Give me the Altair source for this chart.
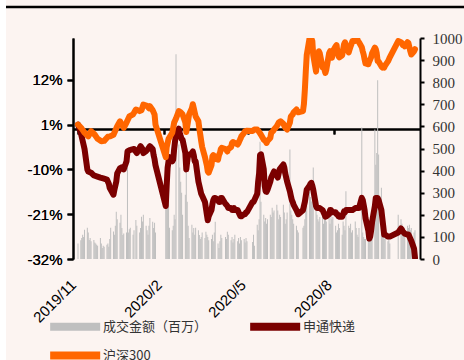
import altair as alt
import pandas as pd

# ---------------- data ----------------
series_names = ["成交金额（百万）", "申通快递", "沪深300"]
series_colors = ["#BFBFBF", "#7B0000", "#FF6600"]

holidays = ["2020-01-01", "2020-01-24", "2020-01-27", "2020-01-28", "2020-01-29",
            "2020-01-30", "2020-01-31", "2020-04-06", "2020-05-01", "2020-05-04",
            "2020-05-05", "2020-06-25", "2020-06-26", "2020-10-01", "2020-10-02",
            "2020-10-05", "2020-10-06", "2020-10-07", "2020-10-08"]

vol_nov = [70, 85, 95, 110, 100, 132, 141, 120, 86, 95, 80, 86, 75, 70, 64, 60, 95, 70, 50, 60, 55]
vol_dec = [64, 70, 55, 90, 141, 125, 110, 150, 214, 180, 164, 200, 140, 109, 115, 120, 414, 120, 135, 141, 110, 130]
vol_jan = [177, 150, 120, 140, 191, 170, 200, 150, 130, 110, 150, 186, 168, 140, 164, 120]
vol_feb = [300, 290, 232, 282, 141, 130, 150, 200, 180, 927, 518, 414, 350, 300, 200, 291, 436, 259, 150, 95]
vol_mar = [155, 120, 140, 110, 141, 130, 109, 90, 100, 120, 95, 123, 110, 100, 85, 90, 110, 80, 120, 168, 70, 50]
vol_apr = [80, 110, 95, 100, 90, 123, 110, 85, 100, 75, 90, 110, 80, 95, 70, 100, 85, 90, 75, 95, 80]
vol_may = [77, 110, 60, 155, 130, 180, 530, 259, 200, 170, 185, 160, 180, 200, 190, 232, 210, 220]
vol_jun = [245, 220, 180, 200, 190, 245, 210, 160, 180, 210, 495, 220, 200, 180, 160, 150, 130, 120, 141, 150]
vol_jul = [180, 259, 240, 305, 280, 260, 300, 414, 220, 200, 180, 170, 190, 200, 160, 180, 210, 170, 190, 160, 200, 180, 190]
vol_aug = [150, 120, 130, 160, 140, 110, 170, 150, 130, 306, 150, 140, 160, 120, 130, 170, 140, 110, 100, 140, 595]
vol_sep = [120, 100, 90, 90, 110, 120, 130, 150, 140, 586, 427, 480, 809, 473, 322, 120, 100, 90, 100, 80, 90, 70]
vol_oct = [200, 180, 160, 140, 130, 120, 150, 140, 155, 130, 140, 120, 130]

st_dates = ["2019-11-01", "2019-11-04", "2019-11-05", "2019-11-06", "2019-11-07", "2019-11-08",
            "2019-11-11", "2019-11-12", "2019-11-15", "2019-11-18", "2019-11-21", "2019-11-25",
            "2019-11-28", "2019-12-02", "2019-12-04", "2019-12-05", "2019-12-09", "2019-12-10",
            "2019-12-12", "2019-12-13", "2019-12-16", "2019-12-18", "2019-12-20", "2019-12-23",
            "2019-12-24", "2019-12-27", "2019-12-31", "2020-01-03", "2020-01-07", "2020-01-09",
            "2020-01-10", "2020-01-13", "2020-01-15", "2020-01-17", "2020-01-20", "2020-01-21",
            "2020-01-22", "2020-01-23", "2020-02-03", "2020-02-04", "2020-02-05", "2020-02-06",
            "2020-02-07", "2020-02-10", "2020-02-11", "2020-02-12", "2020-02-13", "2020-02-14",
            "2020-02-17", "2020-02-18", "2020-02-19", "2020-02-20", "2020-02-21", "2020-02-24",
            "2020-02-25", "2020-02-26", "2020-02-27", "2020-02-28", "2020-03-02", "2020-03-03",
            "2020-03-04", "2020-03-05", "2020-03-06", "2020-03-09", "2020-03-10", "2020-03-11",
            "2020-03-12", "2020-03-13", "2020-03-16", "2020-03-17", "2020-03-18", "2020-03-19",
            "2020-03-20", "2020-03-23", "2020-03-24", "2020-03-25", "2020-03-26", "2020-03-27",
            "2020-03-30", "2020-03-31", "2020-04-01", "2020-04-02", "2020-04-03", "2020-04-07",
            "2020-04-08", "2020-04-09", "2020-04-10", "2020-04-13", "2020-04-14", "2020-04-15",
            "2020-04-16", "2020-04-17", "2020-04-20", "2020-04-21", "2020-04-22", "2020-04-23",
            "2020-04-24", "2020-04-27", "2020-04-28", "2020-04-29", "2020-04-30", "2020-05-06",
            "2020-05-07", "2020-05-08", "2020-05-11", "2020-05-12", "2020-05-13", "2020-05-14",
            "2020-05-15", "2020-05-18", "2020-05-19", "2020-05-20", "2020-05-21", "2020-05-22",
            "2020-05-25", "2020-05-26", "2020-05-27", "2020-05-28", "2020-05-29", "2020-06-01",
            "2020-06-02", "2020-06-03", "2020-06-04", "2020-06-05", "2020-06-08", "2020-06-09",
            "2020-06-10", "2020-06-11", "2020-06-12", "2020-06-15", "2020-06-16", "2020-06-17",
            "2020-06-18", "2020-06-19", "2020-06-22", "2020-06-23", "2020-06-24", "2020-06-29",
            "2020-06-30", "2020-07-01", "2020-07-02", "2020-07-03", "2020-07-06", "2020-07-07",
            "2020-07-08", "2020-07-09", "2020-07-10", "2020-07-13", "2020-07-14", "2020-07-15",
            "2020-07-16", "2020-07-17", "2020-07-20", "2020-07-21", "2020-07-22", "2020-07-23",
            "2020-07-24", "2020-07-27", "2020-07-28", "2020-07-29", "2020-07-30", "2020-07-31",
            "2020-08-03", "2020-08-04", "2020-08-05", "2020-08-06", "2020-08-07", "2020-08-10",
            "2020-08-11", "2020-08-12", "2020-08-13", "2020-08-14", "2020-08-17", "2020-08-18",
            "2020-08-19", "2020-08-20", "2020-08-21", "2020-08-24", "2020-08-25", "2020-08-26",
            "2020-08-27", "2020-08-28", "2020-08-31", "2020-09-01", "2020-09-02", "2020-09-03",
            "2020-09-04", "2020-09-07", "2020-09-08", "2020-09-09", "2020-09-10", "2020-09-11",
            "2020-09-14", "2020-09-15", "2020-09-16", "2020-09-17", "2020-09-18", "2020-09-21",
            "2020-09-22", "2020-09-23", "2020-09-24", "2020-09-25", "2020-09-28", "2020-09-29",
            "2020-09-30", "2020-10-09", "2020-10-12", "2020-10-13", "2020-10-14", "2020-10-15",
            "2020-10-16", "2020-10-19", "2020-10-20", "2020-10-21", "2020-10-22", "2020-10-23",
            "2020-10-26", "2020-10-27"]
st_vals = [1.0, -1.0, -2.0, -3.0, -4.0, -5.0,
           -10.0, -10.5, -10.8, -11.5, -11.7, -12.0,
           -12.2, -12.5, -13.5, -14.6, -16.2, -15.0,
           -13.0, -11.0, -9.7, -9.5, -10.0, -8.0,
           -5.6, -5.2, -5.0, -6.0, -4.3, -5.0,
           -6.0, -5.5, -5.0, -4.3, -5.0, -6.5,
           -7.5, -9.0, -19.0, -14.0, -9.6, -8.0,
           -7.0, -8.0, -7.6, -5.0, -3.0, -1.5,
           0.0, -1.0, -1.9, -2.5, -2.7, -6.0,
           -10.0, -8.0, -6.4, -6.5, -6.0, -5.6,
           -6.5, -8.0, -8.0, -13.0, -14.0, -15.0,
           -16.0, -16.5, -18.0, -19.5, -21.0, -22.5,
           -21.5, -20.0, -18.5, -17.5, -17.0, -17.0,
           -17.5, -18.0, -18.0, -17.0, -17.0, -18.5,
           -18.7, -19.0, -19.5, -19.5, -20.0, -20.0,
           -19.5, -20.0, -20.0, -20.5, -21.0, -21.5,
           -21.5, -21.0, -21.0, -20.5, -20.5, -18.0,
           -18.0, -17.5, -16.0, -13.0, -11.0, -6.5,
           -6.3, -10.0, -14.0, -15.4, -15.5, -15.0,
           -13.0, -12.0, -11.5, -11.0, -10.5, -11.5,
           -12.0, -11.0, -10.0, -9.7, -8.8, -9.5,
           -11.0, -12.0, -13.0, -15.4, -16.5, -17.5,
           -18.0, -18.7, -20.0, -20.5, -21.0, -20.0,
           -19.0, -18.0, -16.5, -15.0, -14.0, -13.5,
           -13.3, -14.0, -15.0, -19.0, -19.5, -19.5,
           -19.5, -19.5, -20.0, -20.5, -21.0, -21.6,
           -21.5, -21.0, -20.0, -20.0, -20.5, -20.5,
           -20.5, -21.0, -21.0, -21.5, -21.6, -21.6,
           -21.0, -20.3, -20.5, -20.0, -20.0, -20.0,
           -20.0, -20.0, -20.0, -19.5, -19.5, -19.5,
           -19.5, -19.5, -17.0, -17.5, -18.7, -20.0,
           -22.0, -25.0, -27.0, -26.5, -25.0, -23.0,
           -19.0, -17.0, -17.0, -17.0, -17.5, -20.0,
           -22.0, -24.0, -26.0, -26.0, -26.5, -26.5,
           -26.5, -25.5, -24.5, -24.8, -25.3, -25.5,
           -25.8, -26.0, -26.0, -26.5, -27.0, -27.5,
           -29.5, -31.7]

hs_dates = ["2019-11-01", "2019-11-05", "2019-11-08", "2019-11-12", "2019-11-15", "2019-11-19",
            "2019-11-22", "2019-11-26", "2019-11-29", "2019-12-03", "2019-12-05", "2019-12-09",
            "2019-12-13", "2019-12-16", "2019-12-18", "2019-12-20", "2019-12-23", "2019-12-26",
            "2019-12-30", "2020-01-02", "2020-01-06", "2020-01-08", "2020-01-10", "2020-01-14",
            "2020-01-16", "2020-01-17", "2020-01-20", "2020-01-22", "2020-01-23", "2020-02-03",
            "2020-02-04", "2020-02-06", "2020-02-10", "2020-02-12", "2020-02-14", "2020-02-17",
            "2020-02-19", "2020-02-21", "2020-02-24", "2020-02-25", "2020-02-26", "2020-02-27",
            "2020-02-28", "2020-03-02", "2020-03-03", "2020-03-04", "2020-03-05", "2020-03-06",
            "2020-03-09", "2020-03-10", "2020-03-11", "2020-03-12", "2020-03-13", "2020-03-16",
            "2020-03-17", "2020-03-18", "2020-03-19", "2020-03-20", "2020-03-23", "2020-03-24",
            "2020-03-25", "2020-03-26", "2020-03-27", "2020-03-30", "2020-03-31", "2020-04-01",
            "2020-04-02", "2020-04-03", "2020-04-07", "2020-04-08", "2020-04-09", "2020-04-10",
            "2020-04-13", "2020-04-14", "2020-04-15", "2020-04-17", "2020-04-20", "2020-04-21",
            "2020-04-22", "2020-04-23", "2020-04-24", "2020-04-27", "2020-04-28", "2020-04-30",
            "2020-05-06", "2020-05-08", "2020-05-11", "2020-05-13", "2020-05-15", "2020-05-18",
            "2020-05-20", "2020-05-21", "2020-05-22", "2020-05-25", "2020-05-26", "2020-05-28",
            "2020-05-29", "2020-06-01", "2020-06-03", "2020-06-05", "2020-06-08", "2020-06-10",
            "2020-06-12", "2020-06-15", "2020-06-16", "2020-06-18", "2020-06-19", "2020-06-22",
            "2020-06-23", "2020-06-24", "2020-06-29", "2020-06-30", "2020-07-01", "2020-07-02",
            "2020-07-03", "2020-07-06", "2020-07-07", "2020-07-08", "2020-07-09", "2020-07-10",
            "2020-07-13", "2020-07-14", "2020-07-15", "2020-07-16", "2020-07-17", "2020-07-20",
            "2020-07-21", "2020-07-22", "2020-07-23", "2020-07-24", "2020-07-27", "2020-07-28",
            "2020-07-29", "2020-07-30", "2020-07-31", "2020-08-03", "2020-08-04", "2020-08-05",
            "2020-08-06", "2020-08-07", "2020-08-10", "2020-08-11", "2020-08-12", "2020-08-13",
            "2020-08-14", "2020-08-17", "2020-08-18", "2020-08-19", "2020-08-20", "2020-08-21",
            "2020-08-24", "2020-08-25", "2020-08-26", "2020-08-27", "2020-08-28", "2020-08-31",
            "2020-09-01", "2020-09-02", "2020-09-03", "2020-09-04", "2020-09-07", "2020-09-08",
            "2020-09-09", "2020-09-10", "2020-09-11", "2020-09-14", "2020-09-15", "2020-09-16",
            "2020-09-17", "2020-09-18", "2020-09-21", "2020-09-22", "2020-09-23", "2020-09-24",
            "2020-09-25", "2020-09-28", "2020-09-29", "2020-09-30", "2020-10-09", "2020-10-12",
            "2020-10-13", "2020-10-14", "2020-10-15", "2020-10-16", "2020-10-19", "2020-10-20",
            "2020-10-21", "2020-10-22", "2020-10-23", "2020-10-26", "2020-10-27"]
hs_vals = [1.0, 0.0, -1.0, -1.9, -0.6, -1.5,
           -2.5, -3.1, -3.0, -2.0, -1.9, -1.5,
           0.6, 1.8, 1.0, 0.2, 1.5, 3.0,
           3.5, 4.7, 4.3, 4.5, 5.9, 5.6,
           5.0, 5.5, 4.5, 3.5, 1.0, -7.0,
           -4.5, -2.5, -1.0, 1.5, 2.5, 4.3,
           4.0, 3.5, 1.5, -0.8, 0.5, 2.0,
           3.5, 5.0, 6.0, 5.0, 4.0, 3.0,
           1.8, 0.0, -1.5, -3.1, -4.5, -7.0,
           -8.0, -9.0, -10.5, -10.8, -9.0, -6.8,
           -6.5, -7.0, -7.4, -7.6, -6.5, -6.0,
           -5.0, -4.7, -5.0, -5.3, -5.6, -5.0,
           -4.5, -3.5, -3.3, -3.5, -3.9, -3.5,
           -3.0, -2.5, -1.9, -1.0, -0.6, -0.5,
           -0.6, -0.2, -0.2, -0.8, -1.5, -2.7,
           -3.1, -3.5, -3.0, -2.3, -1.0, -0.6,
           -0.2, 0.6, 1.5, 1.8, 1.2, 0.2,
           -0.2, 1.5, 3.0, 3.5, 4.0, 4.7,
           4.3, 4.0, 4.3, 6.0, 9.5, 14.0,
           18.0, 22.1, 22.1, 22.1, 21.5, 18.0,
           14.0, 16.6, 17.5, 19.0, 18.5, 15.0,
           15.5, 14.5, 13.7, 14.5, 18.5, 19.0,
           18.0, 17.4, 19.0, 20.2, 20.5, 18.5,
           17.8, 17.5, 18.0, 19.5, 20.7, 21.2,
           20.5, 18.7, 19.5, 20.2, 20.8, 21.5,
           21.5, 22.0, 22.1, 21.5, 21.2, 20.0,
           19.0, 18.2, 17.0, 16.0, 15.8, 16.5,
           17.0, 17.5, 18.5, 19.9, 19.5, 18.5,
           16.6, 16.5, 15.3, 15.0, 15.2, 15.0,
           15.5, 16.5, 17.0, 17.5, 21.5, 21.2,
           21.0, 20.5, 20.5, 20.2, 21.2, 21.0,
           20.0, 19.0, 18.2, 19.0, 19.5]

left_ticks = [-32, -21, -10, 1, 12]
right_ticks = [0, 100, 200, 300, 400, 500, 600, 700, 800, 900, 1000]

# ---------------- tables ----------------
trade_days = [d for d in pd.bdate_range("2019-11-01", "2020-10-27")
              if d.strftime("%Y-%m-%d") not in holidays]
volumes = (vol_nov + vol_dec + vol_jan + vol_feb + vol_mar + vol_apr + vol_may
           + vol_jun + vol_jul + vol_aug + vol_sep + vol_oct)
n = min(len(trade_days), len(volumes))
vol_df = pd.DataFrame({"date": trade_days[:n], "vol": volumes[:n]})
st_df = pd.DataFrame({"date": pd.to_datetime(st_dates), "v": st_vals, "series": series_names[1]})
hs_df = pd.DataFrame({"date": pd.to_datetime(hs_dates), "v": hs_vals, "series": series_names[2]})

W, H = 347, 221
PAD_L, PAD_T = 73, 38
BG = "#FCF4F1"

tick_dates = [alt.DateTime(year=2019, month=11, date=1), alt.DateTime(year=2020, month=2, date=1),
              alt.DateTime(year=2020, month=5, date=1), alt.DateTime(year=2020, month=8, date=1)]
xscale = alt.Scale(domain=[alt.DateTime(year=2019, month=11, date=1),
                           alt.DateTime(year=2020, month=10, date=27)])
yscale_left = alt.Scale(domain=[-32, 22.25], nice=False, zero=False)
cscale = alt.Scale(domain=series_names, range=series_colors)

legend = alt.Legend(
    title=None, orient="none", legendX=-27, legendY=276, columns=2, direction="horizontal",
    symbolType="M-1,0H5", symbolSize=278, symbolStrokeWidth=8,
    labelFont="Noto Sans CJK SC", labelFontSize=13, labelColor="#333333",
    labelOffset=32, columnPadding=26, rowPadding=-13, symbolOpacity=1,
)

bars = alt.Chart(vol_df).mark_bar(size=1, color="#BFBFBF").encode(
    x=alt.X("date:T", scale=xscale, title=None,
            axis=alt.Axis(values=tick_dates, format="%Y/%-m", labelAngle=-45,
                          labelAlign="right", labelBaseline="middle",
                          domain=False, ticks=False, grid=False,
                          labelFont="Liberation Sans", labelFontSize=15, labelColor="#000000",
                          labelPadding=23, labelOffset=-5,
                          labelFlush=False, labelOverlap=False, labelBound=False)),
    y=alt.Y("vol:Q", scale=alt.Scale(domain=[0, 1000], nice=False), title=None,
            axis=alt.Axis(orient="right", values=right_ticks, format="d", grid=False,
                          domainColor="#000000", domainWidth=2,
                          tickColor="#000000", tickWidth=2, tickSize=4,
                          labelFont="Liberation Serif", labelFontSize=15, labelColor="#333333",
                          labelPadding=8)),
)

line_axis_x = alt.Axis(values=tick_dates, orient="bottom", offset=-130, labels=False,
                       domain=True, domainColor="#000000", domainWidth=2,
                       ticks=True, tickColor="#000000", tickWidth=2, tickSize=5, grid=False)
left_axis = alt.Axis(orient="left", values=left_ticks, labelExpr="datum.value + '%'", grid=False,
                     domainColor="#000000", domainWidth=2,
                     tickColor="#000000", tickWidth=2, tickSize=6,
                     labelFont="Liberation Sans", labelFontSize=15, labelColor="#000000",
                     labelPadding=5)

line_st = alt.Chart(st_df).mark_line(strokeWidth=6, strokeCap="round", strokeJoin="round", clip=True).encode(
    x=alt.X("date:T", scale=xscale, title=None, axis=line_axis_x),
    y=alt.Y("v:Q", scale=yscale_left, title=None, axis=left_axis),
    color=alt.Color("series:N", scale=cscale, legend=legend),
)
line_hs = alt.Chart(hs_df).mark_line(strokeWidth=6, strokeCap="round", strokeJoin="round", clip=True).encode(
    x=alt.X("date:T", scale=xscale, title=None, axis=line_axis_x),
    y=alt.Y("v:Q", scale=yscale_left, title=None, axis=left_axis),
    color=alt.Color("series:N", scale=cscale, legend=legend),
)

deco = alt.Data(values=[{}])
white_strip = alt.Chart(deco).mark_rect(color="#FFFFFF", clip=False).encode(
    x=alt.value(-PAD_L), x2=alt.value(-PAD_L + 6), y=alt.value(-PAD_T), y2=alt.value(360 - PAD_T))
top_rule = alt.Chart(deco).mark_rule(color="#000000", strokeWidth=2.5, clip=False).encode(
    x=alt.value(-PAD_L + 6), x2=alt.value(464 - PAD_L), y=alt.value(7 - PAD_T))

chart = alt.layer(white_strip, top_rule, bars, line_st, line_hs).resolve_scale(
    y="independent"
).resolve_axis(x="independent").properties(
    width=W, height=H, background=BG,
    autosize=alt.AutoSizeParams(type="none"),
    padding={"left": PAD_L, "top": PAD_T, "right": 464 - PAD_L - W, "bottom": 360 - PAD_T - H},
).configure_view(stroke=None)

chart.save("out.html", embed_options={"renderer": "svg", "actions": False})
